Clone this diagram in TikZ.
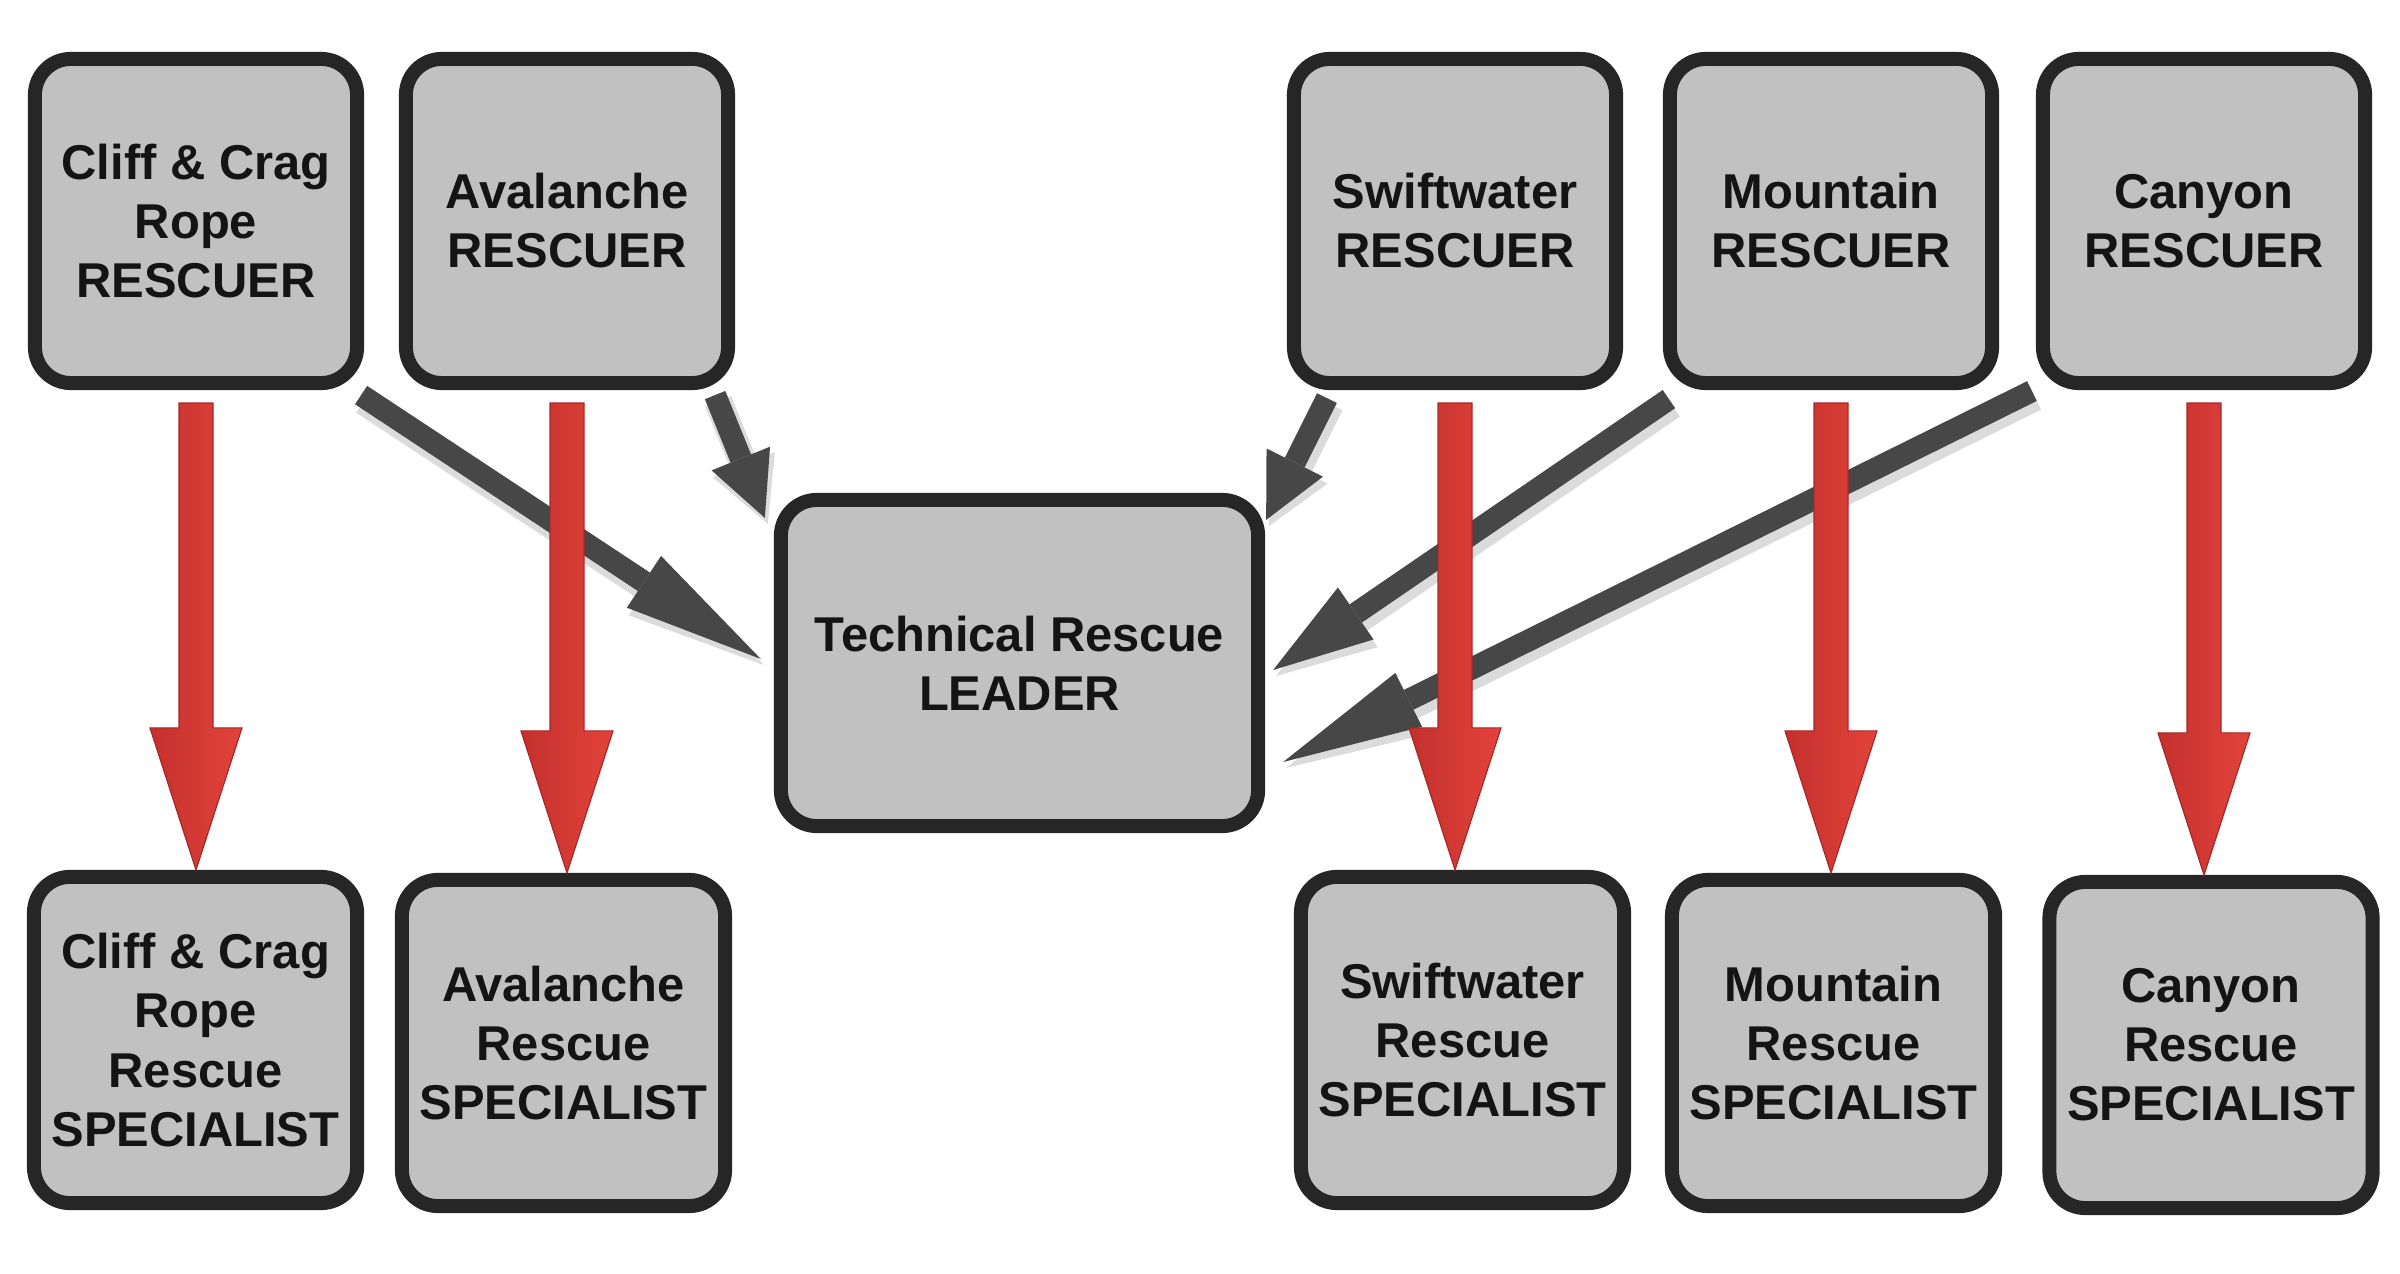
\documentclass[tikz,border=0pt]{standalone}
\usepackage{fontspec}
\setmainfont{Liberation Sans}
\usetikzlibrary{calc,arrows.meta}
\definecolor{boxfill}{HTML}{C1C1C1}
\definecolor{boxline}{HTML}{262626}
\definecolor{arrgray}{HTML}{474747}
\definecolor{redL}{HTML}{C4302E}
\definecolor{redR}{HTML}{E2433A}
\definecolor{redEdge}{HTML}{A82828}
\newcommand\redarrow[2]{%
  \path[redarr] ($(#1.south)+(-17,13)$) -- ($(#1.south)+(17,13)$)
    -- ($(#1.south |- #2.north)+(17,-142)$) -- ($(#1.south |- #2.north)+(46,-142)$)
    -- (#1.south |- #2.north)
    -- ($(#1.south |- #2.north)+(-46,-142)$) -- ($(#1.south |- #2.north)+(-17,-142)$)
    -- cycle;}
\begin{document}
\begin{tikzpicture}[x=0.01cm,y=-0.01cm,
  box/.style={draw=boxline, fill=boxfill, line width=0.14cm, rounded corners=0.36cm,
    align=center, inner sep=0pt, font={\fontsize{13.9}{16.8}\selectfont\bfseries}, text=black!92},
  topbox/.style={box, minimum width=3.22cm, minimum height=3.24cm},
  botbox/.style={box, minimum width=3.23cm, minimum height=3.26cm},
  grayarr/.style={draw=arrgray, line width=0.22cm},
  grshadow/.style={draw=black, line width=0.28cm, opacity=0.14, transform canvas={shift={(0.03cm,-0.06cm)}}},
  hd/.style 2 args={arrows={-{Triangle[length=#1,width=#2,line width=0pt]}}},
  redarr/.style={left color=redL, right color=redR, draw=redEdge, line width=0.012cm, line join=miter}]
\useasboundingbox[fill=white] (0,0) rectangle (2400,1274);

% top row
\node[topbox] (cliffR)  at (196,221)  {Cliff \& Crag\\Rope\\RESCUER};
\node[topbox] (avalR)   at (567,221)  {Avalanche\\RESCUER};
\node[topbox] (swiftR)  at (1455,221) {Swiftwater\\RESCUER};
\node[topbox] (mountR)  at (1831,221) {Mountain\\RESCUER};
\node[topbox] (canyonR) at (2204,221) {Canyon\\RESCUER};

% leader
\node[box, minimum width=4.77cm, minimum height=3.26cm] (leader) at (1019.5,663) {Technical Rescue\\LEADER};

% bottom row
\node[botbox] (cliffS)  at (195.5,1040) {Cliff \& Crag\\Rope\\Rescue\\SPECIALIST};
\node[botbox] (avalS)   at (563.5,1043) {Avalanche\\Rescue\\SPECIALIST};
\node[botbox] (swiftS)  at (1462.5,1040) {Swiftwater\\Rescue\\SPECIALIST};
\node[botbox] (mountS)  at (1833.5,1043) {Mountain\\Rescue\\SPECIALIST};
\node[botbox] (canyonS) at (2211,1045) {Canyon\\Rescue\\SPECIALIST};

% gray arrow end points
\coordinate (s1) at ($(cliffR.south east)+(-3,5)$);
\coordinate (t1) at ($(leader.west)+(-13,-4)$);
\coordinate (s2) at ($(avalR.south east)+(-20,5)$);
\coordinate (t2) at ($(leader.north west)+(-9,25)$);
\coordinate (s3) at ($(swiftR.south west)+(40,8)$);
\coordinate (t3) at ($(leader.north east)+(1,27)$);
\coordinate (s4) at ($(mountR.south west)+(6,9)$);
\coordinate (t4) at ($(leader.east)+(8,7)$);
\coordinate (s5) at ($(canyonR.south west)+(-4,1)$);
\coordinate (t5) at ($(leader.east)+(18,99)$);

% shadows
\draw[grshadow, hd={1.4cm}{0.66cm}] (s1) -- (t1);
\draw[grshadow, hd={0.64cm}{0.67cm}] (s2) -- (t2);
\draw[grshadow, hd={0.64cm}{0.67cm}] (s3) -- (t3);
\draw[grshadow, hd={1.0cm}{0.67cm}] (s4) -- (t4);
\draw[grshadow, hd={1.4cm}{0.64cm}] (s5) -- (t5);

% gray arrows
\draw[grayarr, hd={1.4cm}{0.62cm}] (s1) -- (t1);
\draw[grayarr, hd={0.64cm}{0.63cm}] (s2) -- (t2);
\draw[grayarr, hd={0.64cm}{0.63cm}] (s3) -- (t3);
\draw[grayarr, hd={1.0cm}{0.63cm}] (s4) -- (t4);
\draw[grayarr, hd={1.4cm}{0.6cm}] (s5) -- (t5);

% red arrows
\redarrow{cliffR}{cliffS}
\redarrow{avalR}{avalS}
\redarrow{swiftR}{swiftS}
\redarrow{mountR}{mountS}
\redarrow{canyonR}{canyonS}
\end{tikzpicture}
\end{document}
